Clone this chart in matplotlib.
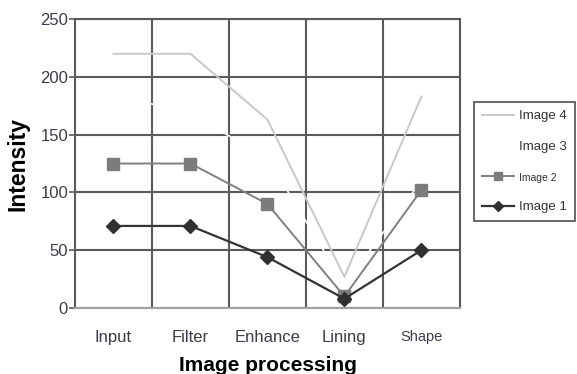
import matplotlib

matplotlib.use("Agg")
import matplotlib.pyplot as plt
import numpy as np

plt.rcParams["font.family"] = ["Liberation Sans", "DejaVu Sans"]

stages = ["Input", "Filter", "Enhance", "Lining", "Shape"]
image1 = [71, 71, 44, 8, 50]
image2 = [125, 125, 90, 10, 102]
image3 = [185, 168, 130, 20, 110]
image4 = [220, 220, 163, 27, 183]

GRID = "#5a5a5a"
TICK_TXT = "#3c3c4a"

fig = plt.figure(figsize=(5.77, 3.74), dpi=100)
ax = fig.add_axes([0.130, 0.1765, 0.667, 0.7725])

x = np.arange(len(stages))
ax.plot(x, image1, color="#333333", lw=1.6, marker="D", ms=7,
        mfc="#303030", mec="#303030", label="Image 1", zorder=5)
ax.plot(x, image2, color="#808080", lw=1.4, marker="s", ms=8,
        mfc="#7c7c7c", mec="#7c7c7c", label="Image 2", zorder=4)
ax.plot(x, image3, color="white", lw=1.2, label="Image 3", zorder=3)
ax.plot(x, image4, color="#c8c8c8", lw=1.4, label="Image 4", zorder=3)

ax.set_xlim(-0.5, len(stages) - 0.5)
ax.set_ylim(0, 250)
ax.set_yticks(range(0, 251, 50))
ax.set_xticks(x)
ax.set_xticks(np.arange(0.5, len(stages) - 0.5, 1), minor=True)
ax.set_xticklabels(stages, fontsize=12, color=TICK_TXT)
ax.get_xticklabels()[-1].set_fontsize(10.5)
ax.get_xticklabels()[-1].set_family(["Liberation Sans Narrow", "Liberation Sans"])
ax.tick_params(axis="x", which="both", length=0, pad=16)
ax.tick_params(axis="y", length=4, width=1.2, color=GRID, labelsize=12,
               labelcolor=TICK_TXT, pad=1)

ax.grid(axis="y", color=GRID, lw=1.5, zorder=1)
ax.grid(axis="x", which="minor", color=GRID, lw=1.5, zorder=1)
ax.set_axisbelow(True)
for side in ["top", "bottom", "left", "right"]:
    ax.spines[side].set_color(GRID)
    ax.spines[side].set_linewidth(1.5)
ax.spines["bottom"].set_color("#a0a0a0")

ax.set_xlabel("Image processing", fontsize=15, fontweight="bold", labelpad=8)
ax.set_ylabel("Intensity", fontsize=16.5, fontweight="bold", labelpad=8)

handles, labels = ax.get_legend_handles_labels()
leg = fig.legend(handles[::-1], labels[::-1], loc="upper left",
                 bbox_to_anchor=(0.822, 0.727), fontsize=9.5, frameon=True,
                 fancybox=False, edgecolor="#222222", handlelength=2.4,
                 handletextpad=0.4, labelspacing=1.4, borderpad=0.6,
                 markerscale=0.75, borderaxespad=0)
leg.get_frame().set_linewidth(1.2)
for t in leg.get_texts():
    t.set_color("#333333")
leg.get_texts()[2].set_fontsize(7.5)

fig.savefig("out.png", dpi=100)
